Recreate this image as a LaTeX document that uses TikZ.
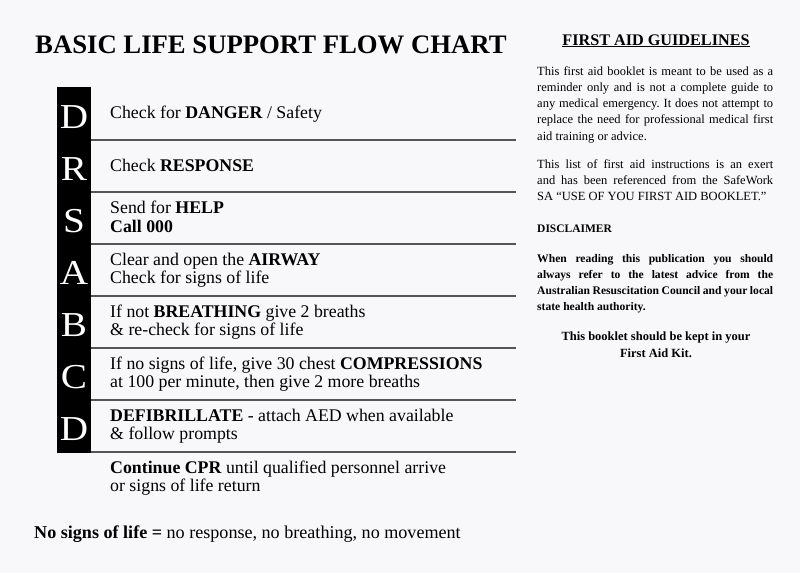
\documentclass[tikz,border=0pt]{standalone}
\usepackage{fontspec}
\setmainfont{Liberation Serif}
\frenchspacing
\definecolor{bg}{HTML}{F8F8FA}
\definecolor{rule}{HTML}{555555}
\newcommand{\nohyph}{\hyphenpenalty=10000\relax}
\tikzset{
  bigletter/.style={text=white, font=\fontsize{35}{35}\selectfont, anchor=base, inner sep=0pt, xscale=1.12, transform shape},
  steptext/.style={font=\fontsize{17.8}{19}\selectfont, anchor=base west, inner sep=0pt},
  divider/.style={draw=rule, line width=1.3pt},
  sidetext/.style={font=\fontsize{12.5}{16.3}\selectfont\nohyph, anchor=base west, inner sep=0pt, text width=236pt, align=justify},
  sidebold/.style={font=\bfseries\fontsize{11.6}{16}\selectfont\nohyph, anchor=base west, inner sep=0pt, text width=236pt, align=justify},
  centerbold/.style={font=\bfseries\fontsize{12.5}{17}\selectfont, anchor=base, inner sep=0pt},
}
\begin{document}
\begin{tikzpicture}[x=1pt,y=1pt]
\fill[bg] (0,0) rectangle (800,-573);
\useasboundingbox (0,0) rectangle (800,-573);
% title
\node[anchor=base west, inner sep=0pt, font=\bfseries\fontsize{26.7}{26.7}\selectfont] (title) at (35,-53) {BASIC LIFE SUPPORT FLOW CHART};
% black bar
\fill[black] (57,-87) rectangle (91,-453);
\foreach \L/\y/\n in {D/128/l1,R/180/l2,S/232/l3,A/284/l4,B/336/l5,C/388/l6,D/440/l7}{
  \node[bigletter] (\n) at (74,-\y) {\L};
}
% dividers
\foreach \y/\n in {140/d1,192/d2,244/d3,296/d4,348/d5,400/d6,452/d7}{
  \coordinate (\n a) at (91,-\y);
  \coordinate (\n b) at (516,-\y);
  \draw[divider] (\n a) -- (\n b);
}
% step texts
\node[steptext] (t1) at (110,-118) {Check for \textbf{DANGER} / Safety};
\node[steptext] (t2) at (110,-171) {Check \textbf{RESPONSE}};
\node[steptext] (t3a) at (110,-213) {Send for \textbf{HELP}};
\node[steptext] (t3b) at (110,-232) {\textbf{Call 000}};
\node[steptext] (t4a) at (110,-265) {Clear and open the \textbf{AIRWAY}};
\node[steptext] (t4b) at (110,-283) {Check for signs of life};
\node[steptext] (t5a) at (110,-317) {If not \textbf{BREATHING} give 2 breaths};
\node[steptext] (t5b) at (110,-335) {\& re-check for signs of life};
\node[steptext] (t6a) at (110,-369) {If no signs of life, give 30 chest \textbf{COMPRESSIONS}};
\node[steptext] (t6b) at (110,-387) {at 100 per minute, then give 2 more breaths};
\node[steptext] (t7a) at (110,-421) {\textbf{DEFIBRILLATE} - attach AED when available};
\node[steptext] (t7b) at (110,-439) {\& follow prompts};
\node[steptext] (t8a) at (110,-473) {\textbf{Continue CPR} until qualified personnel arrive};
\node[steptext] (t8b) at (110,-491) {or signs of life return};
\node[steptext, font=\fontsize{18.1}{19}\selectfont] (nosigns) at (34,-538) {\textbf{No signs of life =} no response, no breathing, no movement};
% right column
\node[anchor=base, inner sep=0pt, font=\bfseries\fontsize{16.2}{16}\selectfont] (fag) at (656,-45) {\underline{FIRST AID GUIDELINES}};
\node[sidetext] (p1) at (537,-75) {This first aid booklet is meant to be used as a\linebreak reminder only and is not a complete guide to\linebreak any medical emergency. It does not attempt to\linebreak replace the need for professional medical first\linebreak aid training or advice.};
\node[sidetext] (p2) at (537,-168) {This list of first aid instructions is an exert\linebreak and has been referenced from the SafeWork\linebreak SA ``USE OF YOU FIRST AID BOOKLET.''};
\node[anchor=base west, inner sep=0pt, font=\bfseries\fontsize{11.5}{11}\selectfont] (disc) at (537,-232) {DISCLAIMER};
\node[sidebold] (p3) at (537,-262) {When reading this publication you should\linebreak always refer to the latest advice from the\linebreak Australian Resuscitation Council and your local\linebreak state health authority.};
\node[centerbold] (keep1) at (656,-340) {This booklet should be kept in your};
\node[centerbold] (keep2) at (656,-357) {First Aid Kit.};
\end{tikzpicture}
\end{document}
